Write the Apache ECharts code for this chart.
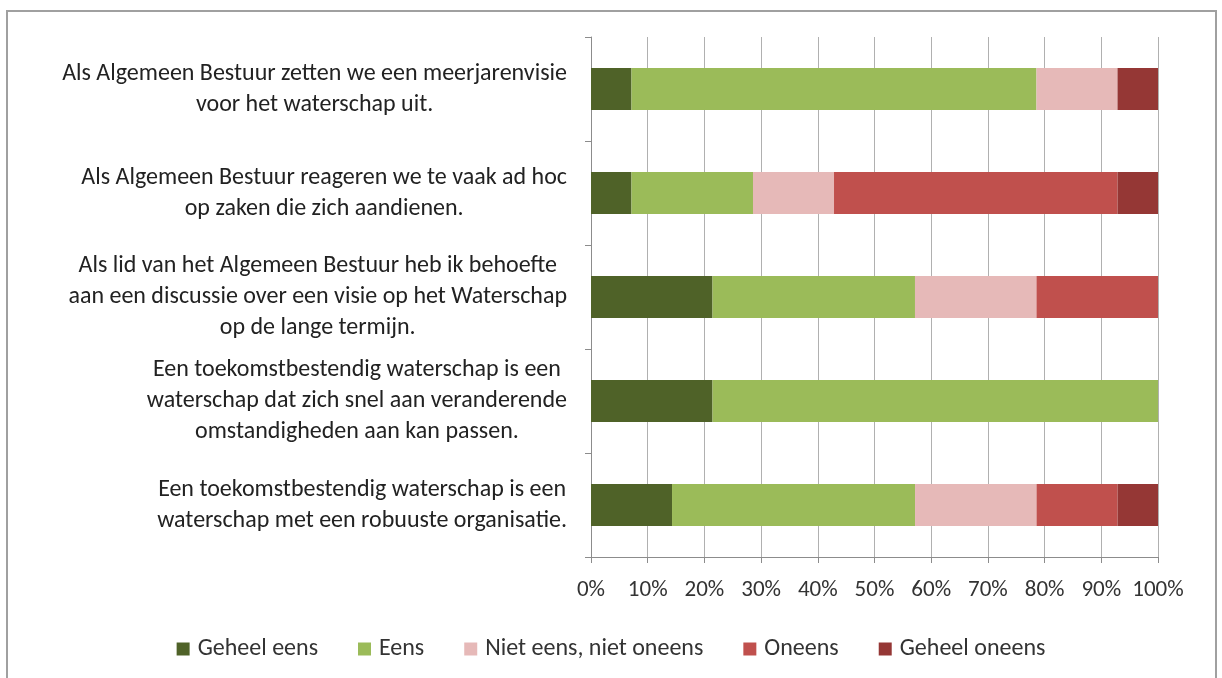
<!DOCTYPE html>
<html>
<head>
<meta charset="utf-8">
<script src="https://cdn.jsdelivr.net/npm/echarts@6/dist/echarts.min.js"></script>
<style>
  html, body { margin: 0; padding: 0; background: #ffffff; }
  #frame { position: absolute; left: 6px; top: 10px; width: 1211px; height: 700px; border: 2px solid #a0a0a0; box-sizing: border-box; }
  #chart { position: absolute; left: 0; top: 0; width: 1222px; height: 678px; }
</style>
</head>
<body>
<div id="frame"></div>
<div id="chart"></div>
<script>
const categories = [
  ["Als Algemeen Bestuur zetten we een meerjarenvisie", "voor het waterschap uit."],
  ["Als Algemeen Bestuur reageren we te vaak ad hoc", "op zaken die zich aandienen."],
  ["Als lid van het Algemeen Bestuur heb ik behoefte", "aan een discussie over een visie op het Waterschap", "op de lange termijn."],
  ["Een toekomstbestendig waterschap is een", "waterschap dat zich snel aan veranderende", "omstandigheden aan kan passen."],
  ["Een toekomstbestendig waterschap is een", "waterschap met een robuuste organisatie."]
];
const seriesNames = ["Geheel eens", "Eens", "Niet eens, niet oneens", "Oneens", "Geheel oneens"];
const geheelEens   = [7.14, 7.14, 21.43, 21.43, 14.29];
const eens         = [71.43, 21.43, 35.71, 78.57, 42.86];
const nietEens     = [14.29, 14.29, 21.43, 0, 21.43];
const oneens       = [0, 50.00, 21.43, 0, 14.29];
const geheelOneens = [7.14, 7.14, 0, 0, 7.14];
const colors = ["#4f6228", "#9bbb59", "#e6b9b8", "#c0504d", "#953735"];

const values = [geheelEens, eens, nietEens, oneens, geheelOneens];
const catKeys = categories.map(function (c, i) { return "c" + i; });
const FONT = "Carlito, Lato, 'Open Sans', sans-serif";

const chart = echarts.init(document.getElementById('chart'));
chart.setOption({
  animation: false,
  backgroundColor: 'transparent',
  grid: { left: 591, right: 64, top: 37, bottom: 121 },
  legend: {
    top: 632,
    left: 'center',
    itemWidth: 13,
    itemHeight: 13,
    itemGap: 40,
    icon: 'rect',
    textStyle: { fontFamily: FONT, fontSize: 24, color: '#333333', padding: [0, 0, 0, 3] },
    data: seriesNames
  },
  xAxis: {
    type: 'value',
    min: 0,
    max: 100,
    interval: 10,
    axisLine: { show: true, lineStyle: { color: '#8c8c8c', width: 1 } },
    axisTick: { show: true, length: 6, lineStyle: { color: '#8c8c8c' } },
    splitLine: { show: true, lineStyle: { color: '#b0b0b0', width: 1 } },
    axisLabel: { formatter: '{value}%', fontFamily: FONT, fontSize: 23, color: '#333333', margin: 22 }
  },
  yAxis: {
    type: 'category',
    inverse: true,
    data: catKeys,
    axisLine: { show: true, lineStyle: { color: '#8c8c8c', width: 1 } },
    axisTick: { show: true, length: 6, lineStyle: { color: '#8c8c8c' } },
    axisLabel: {
      margin: 24,
      formatter: function (v) {
        const lines = categories[catKeys.indexOf(v)];
        return lines.map(function (l) { return '{c|' + l + '}'; }).join('\n');
      },
      rich: { c: { align: 'center', fontFamily: FONT, fontSize: 24, color: '#222222', lineHeight: 31 } }
    }
  },
  series: seriesNames.map(function (name, i) {
    return {
      name: name,
      type: 'bar',
      stack: 'total',
      barWidth: 42,
      itemStyle: { color: colors[i] },
      data: values[i]
    };
  })
});
</script>
</body>
</html>
